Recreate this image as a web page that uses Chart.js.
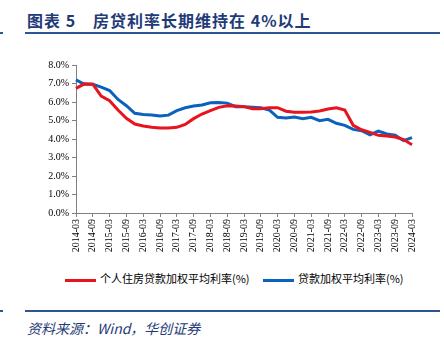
<!DOCTYPE html>
<html>
<head>
<meta charset="utf-8">
<script src="https://cdn.jsdelivr.net/npm/chart.js@4/dist/chart.umd.min.js"></script>
<style>
  html, body { margin: 0; padding: 0; background: #fff; }
  body { width: 444px; height: 340px; position: relative; overflow: hidden; }
  .title { position: absolute; left: 27px; top: 8px; font: bold 16px "Noto Sans CJK SC", sans-serif; color: #1f3b78; letter-spacing: 1px; white-space: nowrap; }
  .rule { position: absolute; left: 25px; width: 415px; height: 2px; background: #2d5596; }
  .stub { position: absolute; left: 0; width: 3px; height: 2px; background: #2d5596; }
  #wrap { position: absolute; left: 0; top: 55px; width: 444px; height: 200px; }
  .legend { position: absolute; top: 270px; font: 11px "Noto Sans CJK SC", sans-serif; color: #000; white-space: nowrap; }
  .legend span.sw { display: inline-block; width: 31px; height: 3px; vertical-align: middle; margin-right: 4px; }
  .source { position: absolute; left: 27px; top: 318px; font: italic 14px "Noto Sans CJK SC", serif; color: #1f3b78; white-space: nowrap; }
</style>
</head>
<body>
<div class="title">图表 5　房贷利率长期维持在 4%以上</div>
<div class="rule" style="top:32px"></div>
<div class="stub" style="top:32px"></div>
<div id="wrap"><canvas id="rateChart" width="444" height="200"></canvas></div>
<div class="legend" style="left:65px"><span class="sw" style="background:#e8141d"></span>个人住房贷款加权平均利率(%)</div>
<div class="legend" style="left:263px"><span class="sw" style="background:#0b62bd"></span>贷款加权平均利率(%)</div>
<div class="rule" style="top:310px"></div>
<div class="stub" style="top:310px"></div>
<div class="source">资料来源：Wind，华创证券</div>

<script>
const quarters = [
    '2014-03', '2014-06', '2014-09', '2014-12', '2015-03', '2015-06', '2015-09', '2015-12',
    '2016-03', '2016-06', '2016-09', '2016-12', '2017-03', '2017-06', '2017-09', '2017-12',
    '2018-03', '2018-06', '2018-09', '2018-12', '2019-03', '2019-06', '2019-09', '2019-12',
    '2020-03', '2020-06', '2020-09', '2020-12', '2021-03', '2021-06', '2021-09', '2021-12',
    '2022-03', '2022-06', '2022-09', '2022-12', '2023-03', '2023-06', '2023-09', '2023-12',
    '2024-03'
];

// 个人住房贷款加权平均利率
const housingRate = [
    6.74, 6.98, 6.96, 6.32, 6.07, 5.57, 5.12, 4.81,
    4.70, 4.63, 4.60, 4.60, 4.63, 4.79, 5.10, 5.35,
    5.53, 5.71, 5.80, 5.78, 5.75, 5.64, 5.64, 5.69,
    5.69, 5.50, 5.44, 5.44, 5.46, 5.51, 5.62, 5.69,
    5.57, 4.74, 4.50, 4.36, 4.20, 4.16, 4.11, 3.97,
    3.69
];

// 贷款加权平均利率
const loanRate = [
    7.20, 6.96, 6.96, 6.80, 6.62, 6.14, 5.80, 5.39,
    5.33, 5.30, 5.24, 5.29, 5.53, 5.69, 5.78, 5.84,
    5.96, 5.97, 5.94, 5.75, 5.75, 5.72, 5.69, 5.57,
    5.17, 5.14, 5.19, 5.10, 5.17, 4.99, 5.06, 4.85,
    4.74, 4.52, 4.45, 4.23, 4.43, 4.27, 4.20, 3.91,
    4.07
];

const yTicks = [0, 1, 2, 3, 4, 5, 6, 7, 8];

const tickFont = { family: '"Liberation Serif", "Times New Roman", serif', size: 10 };

const ctx = document.getElementById('rateChart').getContext('2d');

new Chart(ctx, {
    type: 'line',
    data: {
        labels: quarters,
        datasets: [{
            label: '个人住房贷款加权平均利率(%)',
            data: housingRate,
            borderColor: '#e8141d',
            borderWidth: 3,
            pointRadius: 0,
            tension: 0
        }, {
            label: '贷款加权平均利率(%)',
            data: loanRate,
            borderColor: '#0b62bd',
            borderWidth: 3,
            pointRadius: 0,
            tension: 0
        }]
    },
    options: {
        responsive: false,
        animation: false,
        layout: { padding: { top: 10, right: 32, left: 0, bottom: 0 } },
        plugins: {
            legend: { display: false },
            tooltip: { enabled: false }
        },
        scales: {
            x: {
                offset: false,
                grid: {
                    drawOnChartArea: false,
                    drawTicks: true,
                    tickLength: 4,
                    color: function(c) {
                        return c.index % 2 === 0 ? '#808080' : 'rgba(0,0,0,0)';
                    }
                },
                border: { color: '#808080', width: 1 },
                ticks: {
                    autoSkip: false,
                    maxRotation: 90,
                    minRotation: 90,
                    padding: 2,
                    color: '#000',
                    font: tickFont,
                    callback: function(value, index) {
                        return index % 2 === 0 ? quarters[index] : '';
                    }
                },
                afterFit: function(scale) { scale.height = 42; }
            },
            y: {
                min: 0,
                max: 8,
                afterBuildTicks: function(scale) {
                    scale.ticks = yTicks.map(v => ({ value: v }));
                },
                grid: {
                    drawOnChartArea: false,
                    drawTicks: true,
                    tickLength: 4,
                    color: '#808080'
                },
                border: { color: '#808080', width: 1 },
                ticks: {
                    padding: 3,
                    color: '#000',
                    font: tickFont,
                    callback: function(value) {
                        return value.toFixed(1) + '%';
                    }
                },
                afterFit: function(scale) { scale.width = 76; }
            }
        }
    }
});
</script>
</body>
</html>
